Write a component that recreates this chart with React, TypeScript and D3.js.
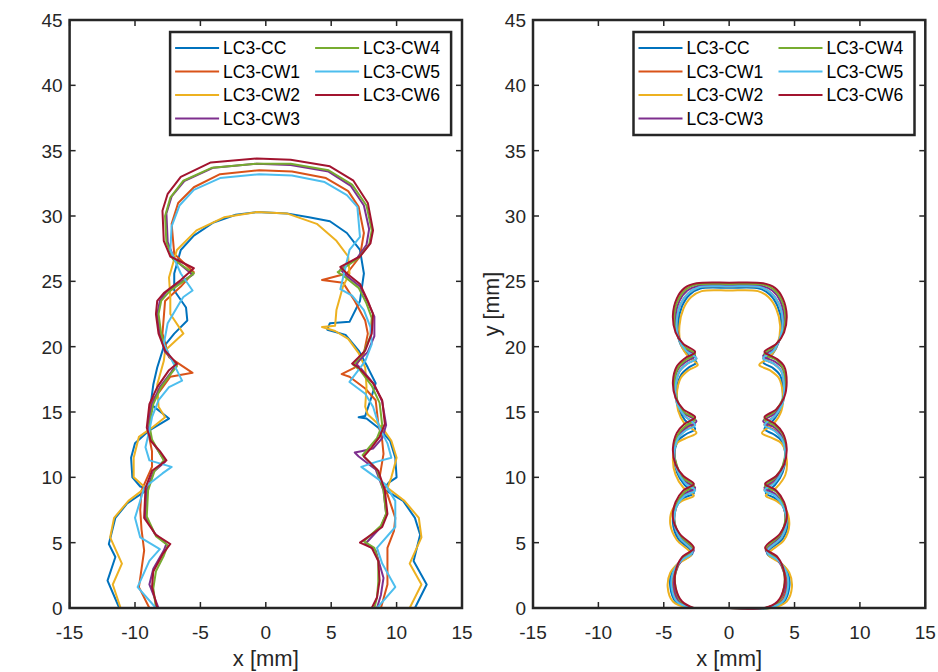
import React from "react";
import * as d3 from "d3";

type P = [number, number];

const seriesNames = ["LC3-CC", "LC3-CW1", "LC3-CW2", "LC3-CW3", "LC3-CW4", "LC3-CW5", "LC3-CW6"];
const seriesColors = ["#0072BD", "#D95319", "#EDB120", "#7E2F8E", "#77AC30", "#4DBEEE", "#A2142F"];
const xTicks = [-15, -10, -5, 0, 5, 10, 15];
const yTicks = [0, 5, 10, 15, 20, 25, 30, 35, 40, 45];

// Left panel contours
const L_CC: P[] = [[-11.2,0],[-12.1,2.1],[-11.5,3.9],[-12.0,4.9],[-11.5,6.9],[-10.6,8.0],[-9.0,9.1],[-9.6,9.3],[-10.2,10.0],[-10.3,11.5],[-10.0,12.6],[-8.9,13.6],[-7.4,14.5],[-8.8,15.6],[-8.6,17.1],[-8.3,18.4],[-7.8,20.0],[-7.0,21.0],[-6.0,22.0],[-6.1,23.0],[-7.0,24.3],[-7.0,25.6],[-6.5,27.4],[-5.5,28.5],[-4.0,29.5],[-2.3,30.1],[-0.7,30.3],[1.6,30.2],[3.3,29.9],[4.9,29.6],[6.2,28.7],[7.2,27.4],[7.5,25.6],[7.2,23.5],[6.4,21.9],[4.9,21.8],[4.7,21.3],[6.1,20.9],[7.1,19.7],[7.8,18.4],[8.4,17.2],[8.0,15.9],[7.6,14.7],[7.1,14.6],[7.7,14.5],[8.6,13.8],[9.5,12.8],[9.9,11.5],[10.0,10.0],[9.4,9.6],[9.0,9.1],[10.5,8.2],[11.4,6.9],[11.8,5.6],[11.3,3.6],[12.3,1.8],[11.4,0]];
const L_CW1: P[] = [[-8.9,0],[-9.7,1.6],[-9.5,3.0],[-9.3,4.4],[-9.5,6.0],[-9.6,7.5],[-9.5,9.0],[-8.7,10.8],[-8.7,12.0],[-9.0,13.5],[-8.9,15.0],[-8.7,15.9],[-8.1,16.6],[-7.3,17.7],[-5.6,18.0],[-7.4,19.2],[-7.9,21.0],[-7.7,23.5],[-6.5,24.6],[-5.5,25.7],[-7.0,27.1],[-7.2,29.4],[-6.7,31.0],[-5.5,32.2],[-3.5,33.2],[-0.5,33.5],[2.0,33.4],[4.6,32.9],[6.3,31.9],[7.1,30.7],[7.5,28.7],[7.2,26.9],[6.2,25.6],[4.3,25.1],[5.9,24.9],[6.8,23.5],[7.6,22.0],[7.8,21.0],[7.5,19.5],[6.8,18.4],[5.8,17.9],[6.4,17.7],[7.6,16.8],[8.4,15.9],[8.6,14.1],[8.9,12.8],[9.0,11.8],[8.7,10.0],[9.3,8.7],[9.9,6.9],[9.8,5.9],[9.3,4.6],[9.3,1.8],[8.8,0]];
const L_CW2: P[] = [[-11.1,0],[-11.7,1.8],[-11.0,3.4],[-11.9,5.4],[-11.6,6.9],[-10.5,8.2],[-9.2,9.2],[-10.1,10.0],[-10.1,11.5],[-9.7,13.1],[-8.7,13.8],[-7.7,14.6],[-8.2,15.4],[-8.3,17.1],[-7.8,18.9],[-7.7,19.7],[-6.3,21.0],[-7.3,22.5],[-7.3,23.8],[-7.4,25.3],[-6.8,27.4],[-5.3,28.9],[-3.2,29.9],[-0.7,30.3],[1.6,30.2],[3.9,29.4],[5.4,28.1],[6.3,26.9],[6.4,25.6],[5.9,24.6],[5.4,22.8],[5.3,21.6],[4.3,21.5],[5.3,21.2],[6.3,20.6],[7.1,19.5],[7.6,18.4],[7.7,16.9],[7.6,15.4],[7.8,14.8],[8.9,13.8],[9.6,12.8],[10.0,11.5],[9.6,10.0],[9.3,9.2],[10.6,8.2],[11.7,6.9],[11.9,5.4],[11.0,3.4],[11.9,1.8],[11.0,0]];
const L_CW3: P[] = [[-8.2,0],[-8.9,1.8],[-8.6,3.0],[-7.8,4.4],[-7.6,4.9],[-8.5,5.7],[-9.2,7.0],[-9.1,9.0],[-8.6,10.4],[-7.7,11.2],[-8.2,12.0],[-8.8,12.9],[-9.0,14.0],[-8.7,15.6],[-8.1,16.9],[-7.2,18.1],[-6.8,18.6],[-7.7,19.6],[-8.1,21.0],[-8.3,22.5],[-8.1,23.5],[-7.6,24.2],[-6.4,25.0],[-5.6,25.5],[-7.0,26.7],[-7.5,28.0],[-7.6,30.2],[-7.2,31.5],[-6.2,32.7],[-4.0,33.7],[-0.7,34.0],[1.9,33.9],[4.8,33.4],[6.5,32.3],[7.5,30.8],[7.9,29.0],[7.7,27.8],[7.0,26.8],[5.7,25.9],[6.2,25.4],[7.2,24.6],[7.8,23.4],[8.3,22.3],[8.3,20.8],[7.8,19.6],[6.9,18.7],[7.3,18.3],[8.3,17.1],[8.9,15.8],[9.2,14.0],[8.9,13.0],[8.2,12.2],[7.3,12.0],[6.8,11.9],[7.1,11.6],[8.4,10.6],[9.0,9.0],[9.2,7.2],[8.8,6.2],[7.6,4.9],[8.4,4.4],[9.0,2.3],[8.8,1.0],[8.5,0]];
const L_CW4: P[] = [[-8.4,0],[-8.6,1.5],[-8.4,2.8],[-7.8,4.0],[-7.5,4.8],[-8.4,5.5],[-9.1,7.0],[-9.0,9.0],[-8.5,10.5],[-7.8,11.3],[-8.2,12.0],[-8.7,12.9],[-8.9,14.0],[-8.6,15.6],[-8.0,16.9],[-7.2,18.0],[-6.8,18.5],[-7.6,19.6],[-8.0,21.0],[-8.2,22.5],[-8.0,23.5],[-7.4,24.2],[-6.3,25.0],[-5.5,25.6],[-7.1,26.7],[-7.6,28.0],[-7.7,30.0],[-7.3,31.4],[-6.3,32.7],[-4.1,33.7],[-0.7,34.0],[1.9,34.0],[4.8,33.5],[6.6,32.4],[7.7,30.8],[8.1,28.9],[7.9,27.8],[7.1,26.8],[5.5,25.7],[6.1,25.3],[7.1,24.5],[7.7,23.3],[8.1,22.2],[8.0,20.8],[7.5,19.6],[6.7,18.6],[7.2,18.2],[8.1,17.0],[8.7,15.7],[8.9,14.0],[8.5,13.0],[7.9,12.3],[7.4,11.7],[8.5,10.6],[9.0,9.0],[9.2,7.2],[8.8,6.3],[7.5,5.1],[8.3,4.6],[8.6,3.6],[8.6,2.0],[8.5,0.8],[8.3,0]];
const L_CW5: P[] = [[-8.4,0],[-9.8,1.6],[-8.9,3.6],[-8.1,4.5],[-9.6,5.4],[-10.0,6.9],[-9.3,9.2],[-7.9,10.3],[-7.2,10.8],[-8.9,11.3],[-9.2,12.3],[-8.9,13.6],[-8.7,14.6],[-8.2,15.9],[-7.4,16.9],[-6.4,17.4],[-6.9,18.4],[-7.8,20.2],[-7.5,21.8],[-6.5,23.5],[-6.3,23.8],[-5.6,24.3],[-6.5,25.6],[-7.3,27.4],[-7.2,29.2],[-6.6,30.8],[-5.5,32.0],[-3.5,32.9],[-0.5,33.2],[2.0,33.1],[4.5,32.6],[6.2,31.6],[7.0,30.7],[7.2,28.4],[6.4,27.4],[5.7,24.4],[6.6,23.9],[7.5,22.8],[8.0,21.5],[8.1,20.2],[7.6,18.9],[6.4,17.3],[7.6,16.4],[8.2,15.4],[8.7,13.8],[9.3,12.6],[9.6,11.5],[8.5,11.2],[7.3,10.8],[9.1,9.5],[9.9,8.2],[9.9,6.2],[8.5,4.6],[8.9,3.4],[9.9,1.6],[8.5,0]];
const L_CW6: P[] = [[-8.3,0],[-8.7,1.6],[-8.6,2.8],[-7.9,4.1],[-7.3,4.9],[-8.4,5.6],[-9.3,6.9],[-9.2,9.2],[-8.7,10.5],[-7.6,11.3],[-8.1,12.0],[-8.8,12.8],[-9.1,13.8],[-8.9,15.6],[-8.3,16.9],[-7.4,18.2],[-6.8,18.7],[-7.7,19.7],[-8.2,21.0],[-8.4,22.5],[-8.3,23.5],[-7.8,24.1],[-6.5,25.1],[-5.5,26.0],[-7.3,26.9],[-7.8,28.1],[-7.9,30.4],[-7.5,31.7],[-6.5,33.0],[-4.2,34.1],[-0.7,34.4],[1.9,34.3],[4.9,33.8],[6.7,32.7],[7.8,31.0],[8.2,28.9],[8.0,27.9],[7.2,26.9],[5.7,26.1],[6.2,25.6],[7.2,24.8],[7.8,23.5],[8.2,22.5],[8.1,21.0],[7.6,19.7],[6.6,18.7],[7.1,18.4],[8.2,17.2],[8.9,15.9],[9.1,14.1],[8.7,13.1],[8.1,12.3],[7.5,11.6],[8.6,10.5],[9.1,9.0],[9.3,7.2],[8.9,6.2],[7.2,5.0],[8.1,4.6],[8.6,3.6],[8.7,2.1],[8.5,0.8],[8.1,0],[7.2,0]];

// Right panel contours
const R_CC: P[] = [[-3.0,0],[-4.1,0.5],[-4.5,1.6],[-4.4,2.7],[-3.8,3.5],[-2.8,4.2],[-3.9,5.3],[-4.3,6.5],[-4.1,7.7],[-3.5,8.4],[-2.7,8.8],[-3.4,9.4],[-4.0,10.4],[-4.2,11.6],[-3.9,12.8],[-3.3,13.3],[-2.6,13.7],[-3.4,14.4],[-3.9,15.4],[-4.0,16.6],[-3.7,17.8],[-3.1,18.4],[-2.5,18.8],[-3.2,19.4],[-3.8,20.4],[-3.9,21.8],[-3.6,23.1],[-3.0,24.0],[-2.2,24.45],[0,24.5],[2.3,24.45],[3.1,24.0],[3.7,23.1],[4.0,21.8],[3.8,20.4],[3.3,19.4],[2.6,18.8],[3.3,18.4],[3.9,17.8],[4.1,16.6],[4.0,15.4],[3.4,14.4],[2.7,13.7],[3.4,13.3],[4.0,12.8],[4.3,11.6],[4.1,10.4],[3.5,9.4],[2.8,8.8],[3.5,8.4],[4.2,7.7],[4.5,6.5],[4.1,5.3],[2.9,4.2],[3.9,3.5],[4.5,2.7],[4.6,1.6],[4.2,0.5],[3.1,0],[0,0],[-3.0,0]];
const R_CW1: P[] = [[-2.9,0],[-3.9,0.5],[-4.3,1.6],[-4.2,2.7],[-3.7,3.6],[-2.8,4.3],[-3.8,5.4],[-4.2,6.6],[-4.0,7.8],[-3.4,8.65],[-2.6,9.05],[-3.4,9.65],[-4.0,10.6],[-4.2,11.8],[-3.9,13.0],[-3.3,13.65],[-2.6,14.05],[-3.4,14.7],[-4.0,15.7],[-4.1,16.9],[-3.8,18.1],[-3.2,18.7],[-2.5,19.1],[-3.3,19.7],[-3.9,20.7],[-4.0,22.0],[-3.7,23.3],[-3.1,24.1],[-2.3,24.55],[0,24.6],[2.4,24.55],[3.2,24.1],[3.8,23.3],[4.1,22.0],[3.9,20.7],[3.4,19.7],[2.6,19.1],[3.4,18.7],[4.0,18.1],[4.2,16.9],[4.1,15.7],[3.5,14.7],[2.7,14.05],[3.4,13.65],[4.0,13.0],[4.3,11.8],[4.1,10.6],[3.5,9.65],[2.7,9.05],[3.5,8.65],[4.1,7.8],[4.4,6.6],[4.0,5.4],[2.9,4.3],[3.8,3.6],[4.3,2.7],[4.4,1.6],[4.0,0.5],[2.9,0],[0,0],[-2.9,0]];
const R_CW2: P[] = [[-3.1,0],[-4.3,0.5],[-4.7,1.6],[-4.5,2.7],[-3.9,3.4],[-2.9,4.1],[-4.0,5.2],[-4.5,6.4],[-4.3,7.6],[-3.6,8.2],[-2.7,8.6],[-3.5,9.2],[-4.1,10.2],[-4.3,11.4],[-4.0,12.6],[-3.3,13.0],[-2.5,13.4],[-3.4,14.1],[-3.9,15.1],[-4.0,16.4],[-3.7,17.6],[-3.1,18.2],[-2.4,18.6],[-3.1,19.2],[-3.7,20.2],[-3.8,21.6],[-3.5,22.9],[-2.9,23.8],[-2.1,24.25],[0,24.3],[2.2,24.25],[3.0,23.8],[3.6,22.9],[3.9,21.6],[3.7,20.2],[3.1,19.2],[2.3,18.6],[3.1,18.2],[3.8,17.6],[4.1,16.4],[4.0,15.1],[3.4,14.1],[2.5,13.4],[3.3,13.0],[4.0,12.6],[4.4,11.4],[4.3,10.2],[3.6,9.2],[2.8,8.6],[3.6,8.2],[4.3,7.6],[4.6,6.4],[4.2,5.2],[3.0,4.1],[4.0,3.4],[4.6,2.7],[4.8,1.6],[4.4,0.5],[3.2,0],[0,0],[-3.1,0]];
const R_CW3: P[] = [[-2.8,0],[-3.8,0.5],[-4.2,1.6],[-4.1,2.7],[-3.6,3.7],[-2.7,4.4],[-3.8,5.5],[-4.2,6.7],[-4.0,7.9],[-3.4,8.75],[-2.6,9.2],[-3.5,9.8],[-4.0,10.8],[-4.2,12.0],[-3.9,13.2],[-3.3,13.8],[-2.5,14.3],[-3.4,14.9],[-4.0,15.9],[-4.2,17.1],[-3.9,18.3],[-3.3,18.85],[-2.6,19.3],[-3.4,19.9],[-3.9,20.9],[-4.1,22.2],[-3.8,23.5],[-3.2,24.3],[-2.4,24.65],[0,24.7],[2.5,24.65],[3.3,24.3],[3.9,23.5],[4.2,22.2],[4.0,20.9],[3.5,19.9],[2.6,19.3],[3.5,18.85],[4.1,18.3],[4.3,17.1],[4.1,15.9],[3.5,14.9],[2.6,14.3],[3.5,13.8],[4.0,13.2],[4.3,12.0],[4.1,10.8],[3.5,9.8],[2.7,9.2],[3.5,8.75],[4.1,7.9],[4.3,6.7],[3.9,5.5],[2.8,4.4],[3.7,3.7],[4.2,2.7],[4.3,1.6],[3.8,0.5],[2.8,0],[0,0],[-2.8,0]];
const R_CW4: P[] = [[-2.8,0],[-3.7,0.5],[-4.1,1.6],[-4.1,2.7],[-3.6,3.8],[-2.75,4.5],[-3.8,5.6],[-4.2,6.8],[-4.0,8.0],[-3.4,8.9],[-2.7,9.35],[-3.5,9.95],[-4.0,10.9],[-4.2,12.1],[-3.9,13.3],[-3.3,13.95],[-2.6,14.45],[-3.5,15.05],[-4.0,16.0],[-4.2,17.2],[-3.9,18.4],[-3.3,19.0],[-2.6,19.45],[-3.5,20.05],[-4.0,21.0],[-4.2,22.3],[-3.9,23.6],[-3.3,24.4],[-2.5,24.75],[0,24.8],[2.6,24.75],[3.4,24.4],[4.0,23.6],[4.3,22.3],[4.1,21.0],[3.5,20.05],[2.7,19.45],[3.6,19.0],[4.1,18.4],[4.3,17.2],[4.1,16.0],[3.5,15.05],[2.7,14.45],[3.5,13.95],[4.1,13.3],[4.3,12.1],[4.1,10.9],[3.5,9.95],[2.75,9.35],[3.6,8.9],[4.1,8.0],[4.3,6.8],[3.9,5.6],[2.8,4.5],[3.7,3.8],[4.2,2.7],[4.2,1.6],[3.8,0.5],[2.8,0],[0,0],[-2.8,0]];
const R_CW5: P[] = [[-2.9,0],[-4.0,0.5],[-4.4,1.6],[-4.3,2.7],[-3.7,3.6],[-2.8,4.3],[-3.8,5.4],[-4.2,6.6],[-4.0,7.8],[-3.4,8.6],[-2.6,9.0],[-3.4,9.6],[-4.0,10.6],[-4.2,11.8],[-3.9,13.0],[-3.3,13.6],[-2.6,14.0],[-3.4,14.7],[-4.0,15.7],[-4.1,16.9],[-3.8,18.1],[-3.2,18.7],[-2.5,19.1],[-3.3,19.7],[-3.9,20.7],[-4.0,22.0],[-3.7,23.3],[-3.1,24.1],[-2.3,24.55],[0,24.6],[2.4,24.55],[3.2,24.1],[3.8,23.3],[4.1,22.0],[3.9,20.7],[3.4,19.7],[2.6,19.1],[3.4,18.7],[4.0,18.1],[4.2,16.9],[4.1,15.7],[3.5,14.7],[2.7,14.0],[3.4,13.6],[4.0,13.0],[4.3,11.8],[4.1,10.6],[3.5,9.6],[2.7,9.0],[3.5,8.6],[4.1,7.8],[4.4,6.6],[4.0,5.4],[2.9,4.3],[3.8,3.6],[4.4,2.7],[4.5,1.6],[4.1,0.5],[3.0,0],[0,0],[-2.9,0]];
const R_CW6: P[] = [[-2.7,0],[-3.6,0.5],[-4.1,1.6],[-4.1,2.8],[-3.6,3.9],[-2.7,4.6],[-3.8,5.7],[-4.3,6.9],[-4.1,8.1],[-3.5,9.0],[-2.7,9.5],[-3.5,10.1],[-4.1,11.0],[-4.3,12.2],[-4.0,13.4],[-3.4,14.1],[-2.6,14.6],[-3.5,15.2],[-4.1,16.1],[-4.3,17.3],[-4.0,18.5],[-3.4,19.1],[-2.6,19.6],[-3.5,20.2],[-4.1,21.1],[-4.3,22.4],[-4.0,23.7],[-3.4,24.5],[-2.5,24.85],[0,24.9],[2.6,24.85],[3.5,24.5],[4.1,23.7],[4.4,22.4],[4.2,21.1],[3.6,20.2],[2.7,19.6],[3.6,19.1],[4.2,18.5],[4.4,17.3],[4.2,16.1],[3.6,15.2],[2.7,14.6],[3.5,14.1],[4.1,13.4],[4.4,12.2],[4.2,11.0],[3.6,10.1],[2.75,9.5],[3.6,9.0],[4.2,8.1],[4.4,6.9],[3.9,5.7],[2.75,4.6],[3.7,3.9],[4.2,2.8],[4.2,1.6],[3.7,0.5],[2.7,0],[0,0],[-2.7,0]];

const leftSeries = [L_CC, L_CW1, L_CW2, L_CW3, L_CW4, L_CW5, L_CW6];
const rightSeries = [R_CC, R_CW1, R_CW2, R_CW3, R_CW4, R_CW5, R_CW6];

const FONT = "'Liberation Sans', Arial, Helvetica, sans-serif";
const AX = "#262626";

const yScale = d3.scaleLinear().domain([0, 45]).range([608, 20]);

function Panel({ x0, x1, data, smooth, showYLabel }: { x0: number; x1: number; data: P[][]; smooth: boolean; showYLabel: boolean }) {
  const xs = d3.scaleLinear().domain([-15, 15]).range([x0, x1]);
  const ys = yScale;
  const line = d3
    .line<P>()
    .x((d) => xs(d[0]))
    .y((d) => ys(d[1]))
    .curve(smooth ? d3.curveCatmullRom.alpha(0.5) : d3.curveLinear);
  const top = ys(45);
  const bottom = ys(0);
  const tl = 6;
  const lg = { x: x0 + 100.5, y: 32, w: 281, h: 103 };
  const rows = [48, 71.5, 95, 118.5];
  return (
    <g>
      {data.map((d, i) => (
        <path key={i} d={line(d) || ""} fill="none" stroke={seriesColors[i]} strokeWidth={2} strokeLinejoin="round" />
      ))}
      {xTicks.map((t) => (
        <g key={"x" + t}>
          <line x1={xs(t)} x2={xs(t)} y1={bottom} y2={bottom - tl} stroke={AX} strokeWidth={1.5} />
          <line x1={xs(t)} x2={xs(t)} y1={top} y2={top + tl} stroke={AX} strokeWidth={1.5} />
          <text x={xs(t)} y={bottom + 31} textAnchor="middle" fontSize={19} fill={AX} fontFamily={FONT}>
            {t}
          </text>
        </g>
      ))}
      {yTicks.map((t) => (
        <g key={"y" + t}>
          <line x1={x0} x2={x0 + tl} y1={ys(t)} y2={ys(t)} stroke={AX} strokeWidth={1.5} />
          <line x1={x1} x2={x1 - tl} y1={ys(t)} y2={ys(t)} stroke={AX} strokeWidth={1.5} />
          <text x={x0 - 7} y={ys(t) + 7} textAnchor="end" fontSize={19} fill={AX} fontFamily={FONT}>
            {t}
          </text>
        </g>
      ))}
      <rect x={x0} y={top} width={x1 - x0} height={bottom - top} fill="none" stroke={AX} strokeWidth={2.5} />
      <text x={(x0 + x1) / 2} y={666} textAnchor="middle" fontSize={22} fill={AX} fontFamily={FONT}>
        x [mm]
      </text>
      {showYLabel && (
        <text transform={`translate(${x0 - 34},${304}) rotate(-90)`} textAnchor="middle" fontSize={21.5} fill={AX} fontFamily={FONT}>
          y [mm]
        </text>
      )}
      <rect x={lg.x} y={lg.y} width={lg.w} height={lg.h} fill="#fff" stroke={AX} strokeWidth={2.5} />
      {seriesNames.map((n, i) => {
        const col = i < 4 ? 0 : 1;
        const row = i < 4 ? i : i - 4;
        const lx = lg.x + 5 + col * 140;
        const ly = rows[row];
        return (
          <g key={n}>
            <line x1={lx} x2={lx + 44} y1={ly} y2={ly} stroke={seriesColors[i]} strokeWidth={2} />
            <text x={lx + 48} y={ly + 6} fontSize={17.5} fill="#000" fontFamily={FONT}>
              {n}
            </text>
          </g>
        );
      })}
    </g>
  );
}

export default function App() {
  return (
    <svg width={938} height={672} style={{ position: "absolute", left: 0, top: 0, background: "#fff" }}>
      <rect width={938} height={672} fill="#fff" />
      <Panel x0={69.6} x1={462} data={leftSeries} smooth={false} showYLabel={false} />
      <Panel x0={533} x1={925.3} data={rightSeries} smooth={true} showYLabel={true} />
    </svg>
  );
}
